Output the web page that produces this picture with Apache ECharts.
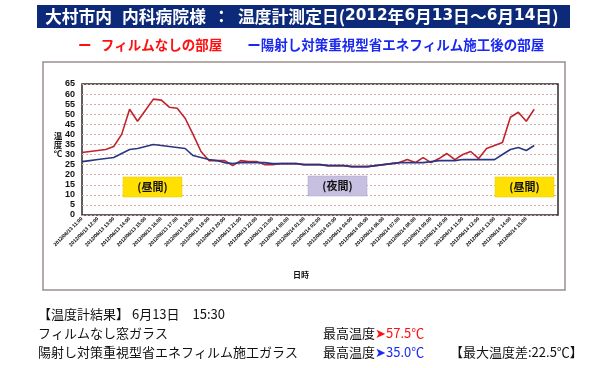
<!DOCTYPE html>
<html><head><meta charset="utf-8">
<script src="https://cdn.jsdelivr.net/npm/echarts@6/dist/echarts.min.js"></script>
<style>html,body{margin:0;padding:0;background:#fff}#c{width:601px;height:368px}</style>
</head><body><div id="c"></div>
<script>
const categories = [
'2012/06/13 11:00','2012/06/13 11:30','2012/06/13 12:00','2012/06/13 12:30','2012/06/13 13:00','2012/06/13 13:30',
'2012/06/13 14:00','2012/06/13 14:30','2012/06/13 15:00','2012/06/13 15:30','2012/06/13 16:00','2012/06/13 16:30',
'2012/06/13 17:00','2012/06/13 17:30','2012/06/13 18:00','2012/06/13 18:30','2012/06/13 19:00','2012/06/13 19:30',
'2012/06/13 20:00','2012/06/13 20:30','2012/06/13 21:00','2012/06/13 21:30','2012/06/13 22:00','2012/06/13 22:30',
'2012/06/13 23:00','2012/06/13 23:30',
'2012/06/14 00:00','2012/06/14 00:30','2012/06/14 01:00','2012/06/14 01:30','2012/06/14 02:00','2012/06/14 02:30',
'2012/06/14 03:00','2012/06/14 03:30','2012/06/14 04:00','2012/06/14 04:30','2012/06/14 05:00','2012/06/14 05:30',
'2012/06/14 06:00','2012/06/14 06:30','2012/06/14 07:00','2012/06/14 07:30','2012/06/14 08:00','2012/06/14 08:30',
'2012/06/14 09:00','2012/06/14 09:30','2012/06/14 10:00','2012/06/14 10:30','2012/06/14 11:00','2012/06/14 11:30',
'2012/06/14 12:00','2012/06/14 12:30','2012/06/14 13:00','2012/06/14 13:30','2012/06/14 14:00','2012/06/14 14:30',
'2012/06/14 15:00','2012/06/14 15:30'
];
const noFilm = [31,31.5,32,32.5,34,40,52.5,46.5,52,57.5,57,53.5,53,48,40,31.5,27,27,27,24.5,27,26.5,26.5,25,25,25.5,
25.5,25.5,25,25,25,24.5,24.5,24.5,24,24,24,24.5,25,25.5,26,27.5,26,28.5,26,28,30.5,27.5,30,31.5,28,33,34.5,36,48.5,51,46.5,52.5];
const withFilm = [26.5,27,27.5,28,28.5,30.5,32.5,33,34,35,34.5,34,33.5,33,29.5,28.5,27.5,27,26,25.5,26,26,26,26,25.5,25.5,
25.5,25.5,25,25,25,24.5,24.5,24.5,24,24,24,24.5,25,25.5,26,26,26,26,26.5,27,27,27,27.5,27.5,27.5,27.5,27.5,30,32.5,33.5,32,34.5];
const seriesNames = ['フィルムなしの部屋','陽射し対策重視型省エネフィルム施工後の部屋'];
const yTicks = {min:0, max:65, interval:5};

const chart = echarts.init(document.getElementById('c'));
const jp = '"Noto Sans CJK JP", sans-serif';
const tfont = 'bold 16.8px '+jp;
const dfont = 'bold 15.3px "DejaVu Sans", sans-serif';
chart.setOption({
  backgroundColor:'#fff',
  animation:false,
  textStyle:{fontFamily:jp},
  legend:{
    top:33, left:68, itemGap:20, icon:'none', itemWidth:0,
    selectedMode:false,
    data:[
      {name:seriesNames[0], textStyle:{color:'#ff1010'}},
      {name:seriesNames[1], textStyle:{color:'#1a28f0'}}
    ],
    formatter:function(n){return n===seriesNames[0] ? 'ー   '+n : 'ー'+n;},
    textStyle:{fontSize:13.5, fontWeight:'bold', fontFamily:jp}
  },
  grid:{left:82, top:84, right:43, bottom:153, show:true, borderColor:'#2a2a2a', borderWidth:1.5},
  xAxis:{
    type:'category', data:categories, boundaryGap:false, min:0, max:60,
    axisLine:{show:false}, axisTick:{show:false},
    axisLabel:{interval:1, rotate:45, fontSize:5, fontWeight:'bold', color:'#000', margin:3, fontFamily:'"Liberation Sans Narrow", "Liberation Sans", sans-serif'},
    splitLine:{show:false}
  },
  yAxis:{
    type:'value', min:yTicks.min, max:yTicks.max, interval:yTicks.interval,
    axisLine:{show:false}, axisTick:{show:false},
    axisLabel:{fontSize:9, fontWeight:'bold', color:'#111', margin:7, fontFamily:'"Liberation Sans", sans-serif'},
    splitLine:{show:true, lineStyle:{color:'#d9a8a8', type:[2,2], width:1}}
  },
  series:[
    {name:seriesNames[0], type:'line', data:noFilm, symbol:'none', smooth:false,
      lineStyle:{color:'#c0232b', width:1.6}, itemStyle:{color:'#ff1010'}, z:2},
    {name:seriesNames[1], type:'line', data:withFilm, symbol:'none',
      lineStyle:{color:'#2a3682', width:1.6}, itemStyle:{color:'#1a28f0'}, z:3}
  ],
  graphic:[
    {type:'rect', shape:{x:37, y:5, width:533, height:23}, style:{fill:'#0d2a7a'}, z:10},
    {type:'text', x:45, y:16.5, style:{text:'大村市内', fill:'#fff', font:tfont, textVerticalAlign:'middle'}, z:11},
    {type:'text', x:122, y:16.5, style:{text:'内科病院様', fill:'#fff', font:tfont, textVerticalAlign:'middle'}, z:11},
    {type:'text', x:213, y:16.5, style:{text:'：', fill:'#fff', font:tfont, textVerticalAlign:'middle'}, z:11},
    {type:'text', x:238, y:16.5, style:{
      text:'{c|温度計測定日(}{d|2012}{c|年}{d|6}{c|月}{d|13}{c|日～}{d|6}{c|月}{d|14}{c|日)}',
      textVerticalAlign:'middle',
      rich:{c:{fill:'#fff', font:tfont}, d:{fill:'#fff', font:dfont}}}, z:11},
    {type:'rect', shape:{x:43, y:62, width:522, height:228}, style:{fill:'none', stroke:'#9c8f8f', lineWidth:1.5}, z:1},
    {type:'text', x:58, y:145, style:{text:'温\n度\n℃', fill:'#111', font:'bold 8.5px '+jp, textAlign:'center', textVerticalAlign:'middle', lineHeight:9}, z:11},
    {type:'text', x:301, y:275, style:{text:'日時', fill:'#111', font:'bold 8px '+jp, textAlign:'center', textVerticalAlign:'middle'}, z:11},
    {type:'rect', shape:{x:123, y:177, width:59, height:20}, style:{fill:'#ffe000', stroke:'#e8c800', lineWidth:0.5}, z:11},
    {type:'text', x:152.5, y:187, style:{text:'(昼間)', fill:'#111', font:'bold 11px '+jp, textAlign:'center', textVerticalAlign:'middle'}, z:12},
    {type:'rect', shape:{x:308, y:176, width:59, height:20}, style:{fill:'#c8c0e0', stroke:'#a8a0c8', lineWidth:0.5}, z:11},
    {type:'text', x:337.5, y:186, style:{text:'(夜間)', fill:'#111', font:'bold 11px '+jp, textAlign:'center', textVerticalAlign:'middle'}, z:12},
    {type:'rect', shape:{x:495, y:177, width:59, height:20}, style:{fill:'#ffe000', stroke:'#e8c800', lineWidth:0.5}, z:11},
    {type:'text', x:524.5, y:187, style:{text:'(昼間)', fill:'#111', font:'bold 11px '+jp, textAlign:'center', textVerticalAlign:'middle'}, z:12},
    {type:'text', x:38, y:314, style:{text:'【温度計結果】 6月13日　15:30', fill:'#111', font:'13px '+jp, textVerticalAlign:'middle'}, z:11},
    {type:'text', x:38, y:333, style:{text:'フィルムなし窓ガラス', fill:'#111', font:'13px '+jp, textVerticalAlign:'middle'}, z:11},
    {type:'text', x:38, y:352, style:{text:'陽射し対策重視型省エネフィルム施工ガラス', fill:'#111', font:'13px '+jp, textVerticalAlign:'middle'}, z:11},
    {type:'text', x:323, y:333, style:{text:'{k|最高温度}{r|➤57.5℃}', textVerticalAlign:'middle',
      rich:{k:{fill:'#111', font:'13px '+jp}, r:{fill:'#ff1010', font:'13px '+jp}}}, z:11},
    {type:'text', x:323, y:352, style:{text:'{k|最高温度}{b|➤35.0℃}', textVerticalAlign:'middle',
      rich:{k:{fill:'#111', font:'13px '+jp}, b:{fill:'#1a28f0', font:'13px '+jp}}}, z:11},
    {type:'text', x:450, y:352, style:{text:'【最大温度差:22.5℃】', fill:'#111', font:'13px '+jp, textVerticalAlign:'middle'}, z:11}
  ]
});
</script></body></html>
